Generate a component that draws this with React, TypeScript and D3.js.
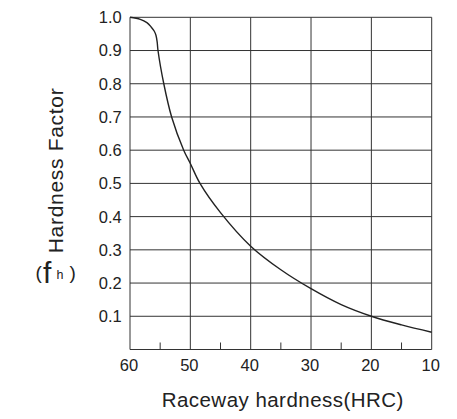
import React from "react";
import * as d3 from "d3";

const hrc = [60, 58.3, 57.2, 56.5, 55.97, 55.7, 55.5, 55.36, 54.4, 53.1, 51.1, 50, 48.4, 45, 40, 35, 30, 25, 20, 15, 10];
const fh = [1.0, 0.994, 0.984, 0.971, 0.958, 0.946, 0.926, 0.9, 0.8, 0.7, 0.6, 0.56, 0.5, 0.412, 0.311, 0.24, 0.183, 0.135, 0.1, 0.074, 0.052];

const xTicks = [60, 50, 40, 30, 20, 10];
const xMinorTicks = [55, 45, 35, 25, 15];
const yTicks = [0.1, 0.2, 0.3, 0.4, 0.5, 0.6, 0.7, 0.8, 0.9, 1.0];

const W = 457;
const H = 419;
const FONT = "'Liberation Sans', Arial, Helvetica, sans-serif";

export default function App() {
  const x = d3.scaleLinear().domain([60, 10]).range([130, 431.7]);
  const y = d3.scaleLinear().domain([0, 1]).range([349.5, 17.3]);
  const pts: [number, number][] = hrc.map((h, i) => [h, fh[i]]);
  const line = d3
    .line<[number, number]>()
    .x((d) => x(d[0]))
    .y((d) => y(d[1]))
    .curve(d3.curveCatmullRom.alpha(0.5));
  const gridColor = "#333";
  const [x0, x1] = x.range();
  const [y0, y1] = y.range();
  return (
    <svg
      width={W}
      height={H}
      style={{ position: "absolute", left: 0, top: 0, background: "#fff" }}
      fontFamily={FONT}
    >
      <rect x={0} y={0} width={W} height={H} fill="#fff" />
      {yTicks.map((t) => (
        <line key={"h" + t} x1={x0} x2={x1} y1={y(t)} y2={y(t)} stroke={gridColor} strokeWidth={1} />
      ))}
      {xTicks.map((t) => (
        <line key={"v" + t} x1={x(t)} x2={x(t)} y1={y1} y2={y0} stroke={gridColor} strokeWidth={1} />
      ))}
      <line x1={x0} x2={x1} y1={y0} y2={y0} stroke={gridColor} strokeWidth={1} />
      {xMinorTicks.map((t) => (
        <line key={"m" + t} x1={x(t)} x2={x(t)} y1={y0} y2={y0 - 7} stroke={gridColor} strokeWidth={1} />
      ))}
      <path d={line(pts) || ""} fill="none" stroke="#222" strokeWidth={1.4} />
      {yTicks.map((t) => (
        <text key={"yl" + t} x={121.7} y={y(t) + 5.9} textAnchor="end" fontSize={16.5} fill="#222">
          {t.toFixed(1)}
        </text>
      ))}
      {xTicks.map((t) => (
        <text key={"xl" + t} x={x(t) - 1} y={370.7} textAnchor="middle" fontSize={16.5} fill="#222">
          {t}
        </text>
      ))}
      <text x={282.5} y={407} textAnchor="middle" fontSize={20.5} fill="#222" textLength={241.7} lengthAdjust="spacing">
        Raceway hardness(HRC)
      </text>
      <text
        transform="translate(63.3,170.8) rotate(-90)"
        textAnchor="middle"
        fontSize={21}
        fill="#222"
        textLength={165}
        lengthAdjust="spacing"
      >
        Hardness Factor
      </text>
      <text x={35.5} y={279} fontSize={19} fill="#222">(</text>
      <text x={43} y={282.5} fontSize={30} fill="#222">f</text>
      <text x={56.5} y={279.3} fontSize={12.5} fill="#222">h</text>
      <text x={69.5} y={279} fontSize={19} fill="#222">)</text>
    </svg>
  );
}
